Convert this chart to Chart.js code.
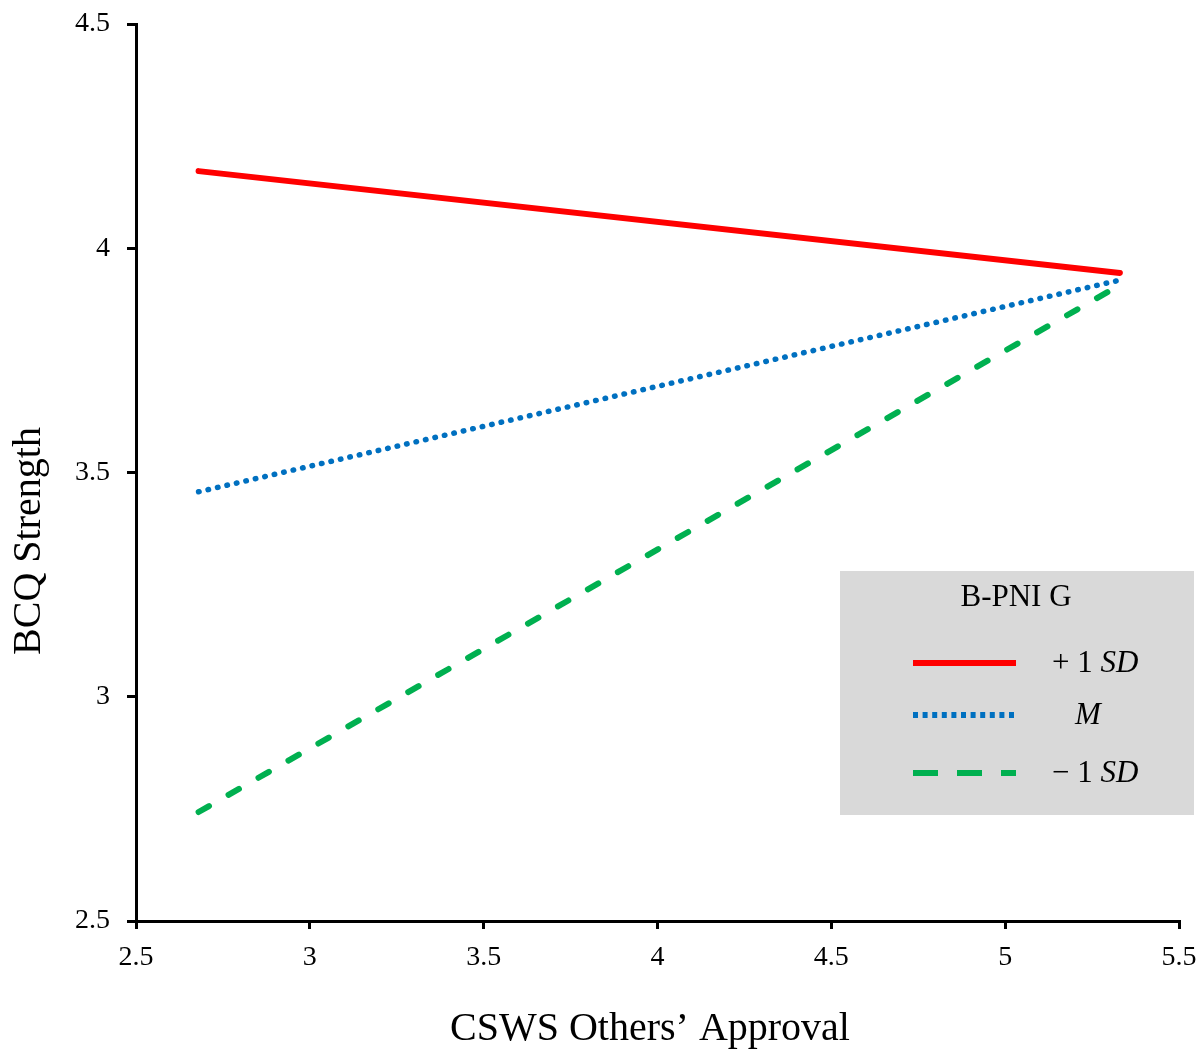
<!DOCTYPE html>
<html>
<head>
<meta charset="utf-8">
<script src="https://cdn.jsdelivr.net/npm/chart.js@4.4.1/dist/chart.umd.min.js"></script>
<style>
  body { margin: 0; background: #fff; }
  #wrap { width: 1198px; height: 1053px; }
</style>
</head>
<body>
<div id="wrap"><canvas id="myChart" width="1198" height="1053"></canvas></div>
<script>
// values
const xValues = [2.68, 5.33];
const plusSD = [4.172, 3.945];
const meanVals = [3.457, 3.929];
const minusSD = [2.743, 3.918];
const xTicks = [2.5, 3, 3.5, 4, 4.5, 5, 5.5];
const yTicks = [2.5, 3, 3.5, 4, 4.5];
const legendTitle = 'B-PNI G';
const seriesLabels = [['+ 1 ', 'SD'], ['', 'M'], ['\u2212 1 ', 'SD']];

const serif = '"Liberation Serif", "DejaVu Serif", serif';

function points(ys) {
  return xValues.map((x, i) => ({ x: x, y: ys[i] }));
}

// axis titles drawn by hand so they sit where the original has them
const axisTitles = {
  id: 'axisTitles',
  afterDraw(chart) {
    const ctx = chart.ctx;
    ctx.save();
    ctx.fillStyle = '#000';
    ctx.font = '40px ' + serif;
    ctx.textAlign = 'center';
    ctx.textBaseline = 'middle';
    ctx.fillText('CSWS Others\u2019 Approval', 650, 1029);
    ctx.translate(29, 541);
    ctx.rotate(-Math.PI / 2);
    ctx.fillText('BCQ Strength', 0, 0);
    ctx.restore();
  }
};

// grey legend box in the lower right
const boxLegend = {
  id: 'boxLegend',
  afterDraw(chart) {
    const ctx = chart.ctx;
    ctx.save();
    ctx.fillStyle = '#d9d9d9';
    ctx.fillRect(840, 571, 354, 244);
    ctx.fillStyle = '#000';
    ctx.font = '31px ' + serif;
    ctx.textAlign = 'center';
    ctx.textBaseline = 'middle';
    ctx.fillText(legendTitle, 1016, 598);

    const rows = [663, 715, 773];
    const dashes = [[], [5, 4.6], [25, 19]];
    chart.data.datasets.forEach((ds, i) => {
      const y = rows[i];
      ctx.strokeStyle = ds.borderColor;
      ctx.lineWidth = 6;
      ctx.lineCap = 'butt';
      ctx.setLineDash(dashes[i]);
      ctx.beginPath();
      ctx.moveTo(913, y);
      ctx.lineTo(1016, y);
      ctx.stroke();
      ctx.setLineDash([]);

      const parts = seriesLabels[i];
      ctx.textAlign = 'left';
      let x = i === 1 ? 1075 : 1052;
      ctx.font = '31px ' + serif;
      ctx.fillText(parts[0], x, y + 1);
      x += ctx.measureText(parts[0]).width;
      ctx.font = 'italic 31px ' + serif;
      ctx.fillText(parts[1], x, y + 1);
    });
    ctx.restore();
  }
};

const ctx = document.getElementById('myChart').getContext('2d');
new Chart(ctx, {
  type: 'line',
  data: {
    datasets: [
      {
        label: '+ 1 SD',
        data: points(plusSD),
        borderColor: '#ff0000',
        borderWidth: 6,
        borderCapStyle: 'round',
        pointRadius: 0
      },
      {
        label: 'M',
        data: points(meanVals),
        borderColor: '#0070c0',
        borderWidth: 5.5,
        borderDash: [0.5, 9.2],
        borderCapStyle: 'round',
        pointRadius: 0
      },
      {
        label: '\u2212 1 SD',
        data: points(minusSD),
        borderColor: '#00b050',
        borderWidth: 6,
        borderDash: [12, 22.5],
        borderCapStyle: 'round',
        pointRadius: 0
      }
    ]
  },
  options: {
    responsive: false,
    animation: false,
    layout: { autoPadding: false, padding: { top: 24, right: 19, left: 0, bottom: 0 } },
    plugins: {
      legend: { display: false },
      tooltip: { enabled: false }
    },
    scales: {
      x: {
        type: 'linear',
        min: 2.5,
        max: 5.5,
        afterBuildTicks: scale => { scale.ticks = xTicks.map(v => ({ value: v })); },
        afterFit: scale => {
          scale.height = 132;
          scale.paddingLeft = 0;
          scale.paddingRight = 0;
        },
        border: { color: '#000', width: 3 },
        grid: { drawOnChartArea: false, drawTicks: true, tickLength: 8, color: '#000', lineWidth: 3 },
        ticks: {
          color: '#000',
          font: { family: serif, size: 28 },
          padding: 12,
          maxRotation: 0,
          callback: v => String(v)
        }
      },
      y: {
        min: 2.5,
        max: 4.5,
        afterBuildTicks: scale => { scale.ticks = yTicks.map(v => ({ value: v })); },
        afterFit: scale => {
          scale.width = 136;
          scale.paddingTop = 0;
          scale.paddingBottom = 0;
        },
        border: { color: '#000', width: 3 },
        grid: { drawOnChartArea: false, drawTicks: true, tickLength: 9, color: '#000', lineWidth: 3 },
        ticks: {
          color: '#000',
          font: { family: serif, size: 28 },
          padding: 17,
          callback: v => String(v)
        }
      }
    }
  },
  plugins: [axisTitles, boxLegend]
});
</script>
</body>
</html>
